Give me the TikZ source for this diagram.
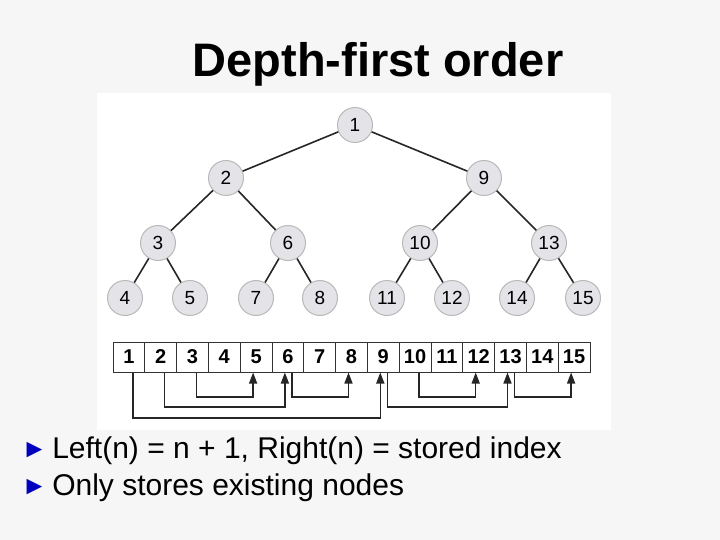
\documentclass[tikz,border=0pt]{standalone}
\usepackage{fontspec}
\setmainfont{Liberation Sans}
\usetikzlibrary{arrows.meta}
\begin{document}
\begin{tikzpicture}[x=1pt,y=-1pt,
  tn/.style={circle,draw=gray!55,line width=1pt,fill=blue!8!gray!20,minimum size=35pt,inner sep=0pt,font=\fontsize{19}{19}\selectfont},
  edge/.style={draw=black!85,line width=1.6pt},
  cell/.style={draw=black!80,line width=1pt,fill=white,minimum width=31.8pt,minimum height=30pt,inner sep=0pt,font=\bfseries\fontsize{20}{20}\selectfont},
  link/.style={draw=black!85,line width=1.4pt,-{Triangle[length=11pt,width=8pt]}},
  bul/.style={anchor=west,font=\fontsize{30}{30}\selectfont}]
\fill[gray!7] (0,0) rectangle (720,540);
\useasboundingbox (0,0) rectangle (720,540);
\fill[white] (97,93) rectangle (611,430);
\node[font=\bfseries\fontsize{47}{47}\selectfont] (title) at (378,64) {Depth-first order};
% tree
\node[tn] (n1) at (355,125) {1};
\node[tn] (n2) at (226,178) {2};
\node[tn] (n9) at (484,178) {9};
\node[tn] (n3) at (158,243) {3};
\node[tn] (n6) at (288,243) {6};
\node[tn] (n10) at (420,243) {10};
\node[tn] (n13) at (549,243) {13};
\node[tn] (n4) at (125,298) {4};
\node[tn] (n5) at (190,298) {5};
\node[tn] (n7) at (256,298) {7};
\node[tn] (n8) at (320,298) {8};
\node[tn] (n11) at (387,298) {11};
\node[tn] (n12) at (452,298) {12};
\node[tn] (n14) at (517,298) {14};
\node[tn] (n15) at (583,298) {15};
\foreach \a/\b in {n1/n2,n1/n9,n2/n3,n2/n6,n9/n10,n9/n13,n3/n4,n3/n5,n6/n7,n6/n8,n10/n11,n10/n12,n13/n14,n13/n15}
  \draw[edge] (\a) -- (\b);
% array
\foreach \i in {1,...,15}
  \node[cell] (c\i) at ({113+(\i-0.5)*31.8},357) {\i};
\foreach \s/\t/\y in {1/9/418,2/6/407,3/5/397,6/8/397,9/13/407,10/12/397,13/15/397}
  \draw[link] ([xshift=4pt]c\s.south) -- ([xshift=4pt]c\s.south |- 0,\y) -| ([xshift=-3pt]c\t.south);
% bullets
\node[bul] (b1) at (18,451) {\textcolor{blue!75!black}{\fontsize{26}{26}\selectfont\raisebox{1pt}{►}}\hspace{5pt}Left(n) = n + 1, Right(n) = stored index};
\node[bul] (b2) at (18,488) {\textcolor{blue!75!black}{\fontsize{26}{26}\selectfont\raisebox{1pt}{►}}\hspace{5pt}Only stores existing nodes};
\end{tikzpicture}
\end{document}
